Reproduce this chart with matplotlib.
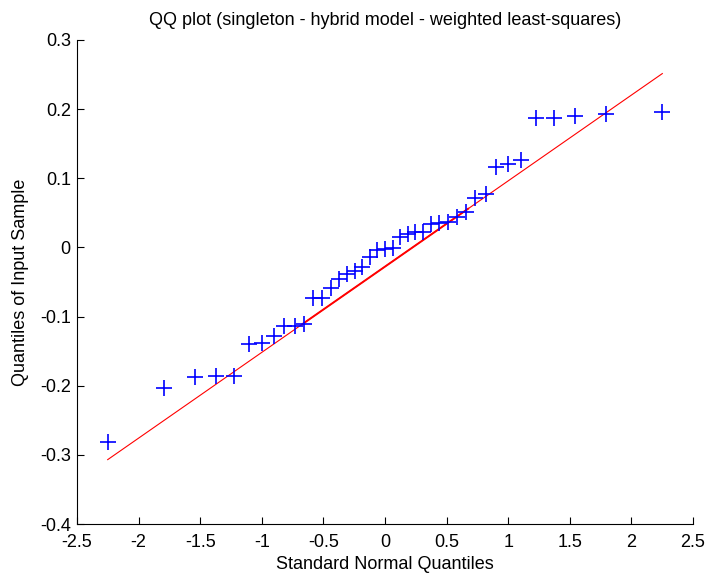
import numpy as np
import matplotlib
matplotlib.use("Agg")
import matplotlib.pyplot as plt

plt.rcParams["font.family"] = ["Liberation Sans", "DejaVu Sans"]

# theoretical normal quantiles for 41 samples (x of each cross)
normal_q = [-2.251, -1.792, -1.546, -1.370, -1.227, -1.107, -1.000, -0.904,
            -0.816, -0.733, -0.655, -0.581, -0.510, -0.441, -0.375, -0.310,
            -0.246, -0.184, -0.122, -0.061, 0.000, 0.061, 0.122, 0.184,
            0.246, 0.310, 0.375, 0.441, 0.510, 0.581, 0.655, 0.733, 0.816,
            0.904, 1.000, 1.107, 1.227, 1.370, 1.546, 1.792, 2.251]

# sorted sample values
sample_q = [-0.281, -0.204, -0.188, -0.1865, -0.1865, -0.140, -0.138, -0.128,
            -0.114, -0.114, -0.1105, -0.0736, -0.0728, -0.058, -0.0456, -0.038,
            -0.034, -0.029, -0.0137, -0.004, -0.002, -0.001, 0.0154, 0.020,
            0.0216, 0.0216, 0.0338, 0.0347, 0.0372, 0.0444, 0.0507, 0.0716,
            0.0774, 0.116, 0.120, 0.127, 0.1868, 0.1868, 0.1897, 0.1926, 0.196]

x_ticks = [-2.5, -2, -1.5, -1, -0.5, 0, 0.5, 1, 1.5, 2, 2.5]
y_ticks = [-0.4, -0.3, -0.2, -0.1, 0, 0.1, 0.2, 0.3]

x = np.array(normal_q)
y = np.array(sample_q)

# reference line through the first and third quartiles
q1x, q3x = np.percentile(x, [25, 75], method="hazen")
q1y, q3y = np.percentile(y, [25, 75], method="hazen")
slope = (q3y - q1y) / (q3x - q1x)
cx, cy = (q1x + q3x) / 2, (q1y + q3y) / 2
line_x = np.array([x.min(), x.max()])
mid_x = np.array([q1x, q3x])

fig = plt.figure(figsize=(7.08, 5.78), dpi=100)
ax = fig.add_axes([0.1088, 0.0934, 0.870, 0.8374])

ax.plot(line_x, cy + slope * (line_x - cx), "-", color="#ff0000", lw=0.8)
ax.plot(mid_x, cy + slope * (mid_x - cx), "-", color="#ff0000", lw=1.4)
ax.plot(x, y, "+", color="#0000ff", ms=11, mew=1.2)

ax.set_xlim(-2.5, 2.5)
ax.set_ylim(-0.4, 0.3)
ax.set_xticks(x_ticks)
ax.set_xticklabels([f"{v:g}" for v in x_ticks])
ax.set_yticks(y_ticks)
ax.set_yticklabels([f"{v:g}" for v in y_ticks])
ax.tick_params(direction="in", length=5, width=0.8, labelsize=13)
ax.tick_params(axis="x", pad=7)
ax.tick_params(axis="y", pad=4.5)
for side in ("top", "right"):
    ax.spines[side].set_visible(False)
for side in ("left", "bottom"):
    ax.spines[side].set_linewidth(0.8)

ax.set_xlabel("Standard Normal Quantiles", fontsize=13, labelpad=4)
ax.set_ylabel("Quantiles of Input Sample", fontsize=13, labelpad=8)
ax.set_title("QQ plot (singleton - hybrid model - weighted least-squares)",
             fontsize=13, pad=11)

fig.savefig("out.png", dpi=100)
